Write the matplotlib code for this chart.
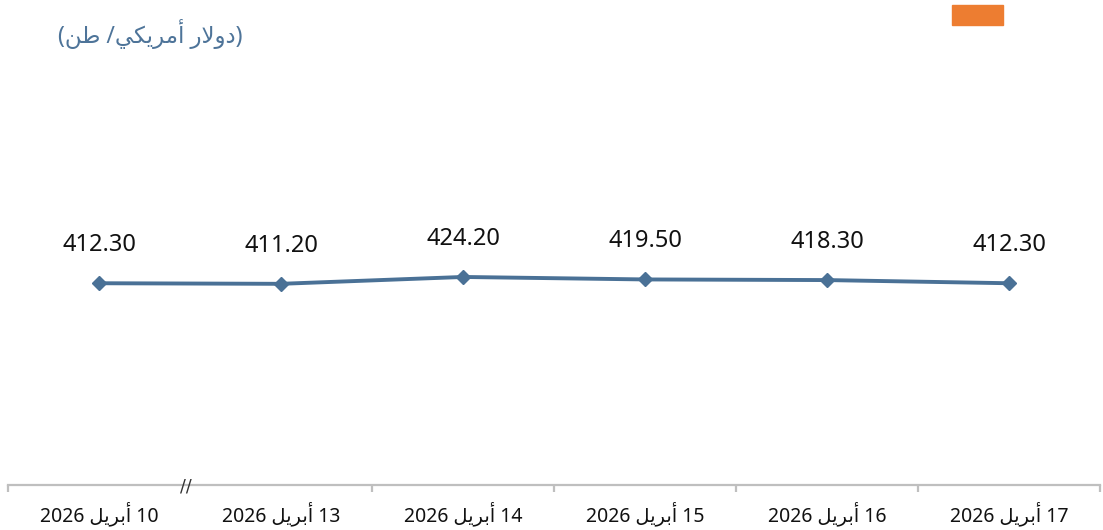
import re
import matplotlib
matplotlib.use("Agg")
import matplotlib.pyplot as plt
from matplotlib.patches import Rectangle
from matplotlib.transforms import blended_transform_factory

# ---------------- data ----------------
categories = ["10 أبريل 2026", "13 أبريل 2026", "14 أبريل 2026",
              "15 أبريل 2026", "16 أبريل 2026", "17 أبريل 2026"]
prices = [412.30, 411.20, 424.20, 419.50, 418.30, 412.30]
unit_title = "(دولار أمريكي/ طن)"

# ---------------- minimal Arabic shaping (presentation forms) ----------------
FORMS = {
    'ا': ('\uFE8D', '\uFE8E', None, None),
    'أ': ('\uFE83', '\uFE84', None, None),
    'ب': ('\uFE8F', '\uFE90', '\uFE91', '\uFE92'),
    'د': ('\uFEA9', '\uFEAA', None, None),
    'ر': ('\uFEAD', '\uFEAE', None, None),
    'ط': ('\uFEC1', '\uFEC2', '\uFEC3', '\uFEC4'),
    'ك': ('\uFED9', '\uFEDA', '\uFEDB', '\uFEDC'),
    'ل': ('\uFEDD', '\uFEDE', '\uFEDF', '\uFEE0'),
    'م': ('\uFEE1', '\uFEE2', '\uFEE3', '\uFEE4'),
    'ن': ('\uFEE5', '\uFEE6', '\uFEE7', '\uFEE8'),
    'و': ('\uFEED', '\uFEEE', None, None),
    'ي': ('\uFEF1', '\uFEF2', '\uFEF3', '\uFEF4'),
}
LAM_ALEF = {'ا': ('\uFEFB', '\uFEFC'), 'أ': ('\uFEF7', '\uFEF8')}
MIRROR = {'(': ')', ')': '('}


def _dual(c):
    return c in FORMS and FORMS[c][2] is not None


def shape(s):
    out = []
    i, n = 0, len(s)
    prev_joins = False
    while i < n:
        c = s[i]
        if c == 'ل' and i + 1 < n and s[i + 1] in LAM_ALEF:
            out.append(LAM_ALEF[s[i + 1]][1 if prev_joins else 0])
            prev_joins = False
            i += 2
            continue
        if c in FORMS:
            iso, fin, ini, med = FORMS[c]
            nxt = s[i + 1] if i + 1 < n else ''
            next_join = _dual(c) and nxt in FORMS
            if prev_joins and next_join:
                g = med
            elif prev_joins:
                g = fin
            elif next_join:
                g = ini
            else:
                g = iso
            out.append(g)
            prev_joins = next_join
        else:
            out.append(c)
            prev_joins = False
        i += 1
    return ''.join(out)


def rtl(s):
    tokens = re.findall(r'[0-9.]+|.', shape(s))
    return ''.join(MIRROR.get(t, t) for t in reversed(tokens))


FONT = ['Noto Sans', 'DejaVu Sans']
plt.rcParams['font.family'] = FONT

# ---------------- figure ----------------
W, H = 1103, 530
fig = plt.figure(figsize=(W / 100, H / 100), dpi=100)
ax = fig.add_axes([8 / W, 45 / H, 1092 / W, 485 / H])

line_color = '#4A7196'
x = list(range(len(categories)))
ax.plot(x, prices, color=line_color, lw=2.8, marker='D', markersize=6.8,
        markerfacecolor=line_color, markeredgecolor=line_color, solid_capstyle='round')

for xi, v in zip(x, prices):
    ax.annotate(f"{v:.2f}", (xi, v), xytext=(0, 23), textcoords='offset points',
                ha='center', va='baseline', fontsize=17, color='#111111')

ax.set_xlim(-0.5, len(categories) - 0.5)
ax.set_ylim(30, 949)

for side in ['top', 'left', 'right']:
    ax.spines[side].set_visible(False)
ax.spines['bottom'].set_color('#BFBFBF')
ax.spines['bottom'].set_linewidth(1.6)
ax.set_yticks([])

# boundary ticks (no tick where the axis break sits)
ax.set_xticks([-0.5, 1.5, 2.5, 3.5, 4.5, 5.5])
ax.set_xticklabels([])
ax.tick_params(axis='x', which='major', direction='out', length=5, width=1.6,
               color='#BFBFBF')
ax.set_xticks(x, [rtl(c) for c in categories], minor=True)
ax.tick_params(axis='x', which='minor', length=0, pad=12, labelsize=14,
               labelcolor='#111111')

# axis break mark
trans = blended_transform_factory(ax.transData, ax.transAxes)
ax.text(0.48, -0.004, "//", transform=trans, ha='center', va='center',
        fontsize=12.5, color='#333333', family='DejaVu Sans')

# unit title
fig.text(150 / W, 1 - 34 / H, rtl(unit_title), ha='center', va='center',
         fontsize=16.5, color='#4E7499')

# orange legend patch
fig.patches.append(Rectangle((952 / W, 1 - 25 / H), 51 / W, 20 / H,
                             transform=fig.transFigure, color='#ED7D31'))

fig.savefig('out.png', dpi=100)
